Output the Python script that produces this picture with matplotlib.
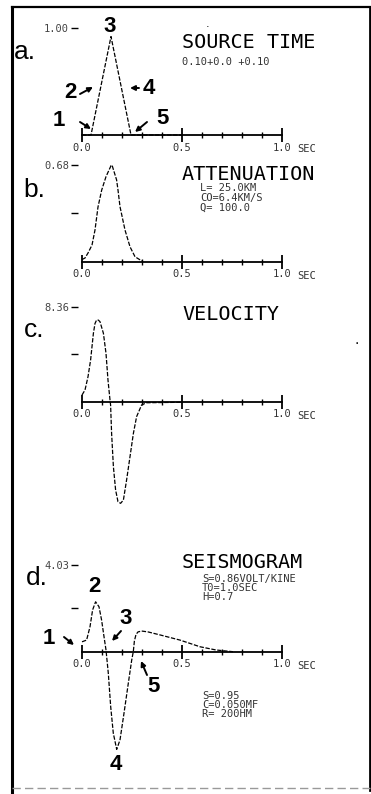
import numpy as np
import matplotlib
matplotlib.use("Agg")
import matplotlib.pyplot as plt
from matplotlib.lines import Line2D

W, H = 371, 794

# ---- data (time in sec, amplitude in panel units) ----
src_t = [0.0, 0.045, 0.145, 0.245, 0.5]
src_v = [0.0, 0.0, 0.92, 0.0, 0.0]

att_t = [0.0, 0.015, 0.03, 0.05, 0.065, 0.08, 0.0985, 0.12, 0.145, 0.15,
         0.173, 0.18, 0.19, 0.215, 0.24, 0.265, 0.305]
att_v = [0.015, 0.026, 0.061, 0.117, 0.223, 0.385, 0.504, 0.598, 0.675, 0.68,
         0.575, 0.504, 0.387, 0.223, 0.105, 0.035, 0.0]

vel_t = [0.0, 0.015, 0.03, 0.043, 0.057, 0.065, 0.073, 0.082, 0.09, 0.107,
         0.12, 0.13, 0.14, 0.143, 0.148, 0.157, 0.168, 0.18, 0.193, 0.207,
         0.223, 0.24, 0.257, 0.273, 0.298, 0.323, 0.5]
vel_v = [0.59, 1.03, 2.2, 3.68, 6.04, 6.9, 7.21, 7.2, 7.06, 6.04,
         4.27, 1.9, 0.15, -0.3, -2.79, -5.74, -7.79, -8.83, -8.97, -8.68,
         -6.91, -4.85, -2.79, -1.32, -0.29, -0.09, -0.05]

sei_t = [0.0, 0.023, 0.04, 0.053, 0.068, 0.085, 0.098, 0.11, 0.12, 0.1315,
         0.1435, 0.1565, 0.1735, 0.19, 0.21, 0.2315, 0.2485, 0.2565, 0.262,
         0.27, 0.28, 0.2985, 0.33, 0.39, 0.49, 0.59, 0.67, 0.755]
sei_v = [0.46, 0.54, 1.16, 1.94, 2.32, 2.09, 1.47, 0.70, 0.08, -1.0,
         -2.56, -3.79, -4.54, -4.1, -2.86, -1.47, -0.39, 0.0, 0.5,
         0.8, 0.92, 0.96, 0.92, 0.78, 0.54, 0.23, 0.08, 0.0]

peaks = [1.00, 0.68, 8.36, 4.03]
letters = ["a.", "b.", "c.", "d."]
titles = ["SOURCE TIME", "ATTENUATION", "VELOCITY", "SEISMOGRAM"]

plot_font = "DejaVu Sans Mono"
big_font = "Liberation Sans"


def fpos(x, y):
    # reference pixel (top-left origin) -> figure fraction
    return x / W, 1 - y / H


fig = plt.figure(figsize=(W / 100, H / 100), dpi=100)
fig.patch.set_facecolor("white")


def panel(top, bot, axis_y, scale, t, v, peak, mid=True):
    ax = fig.add_axes([0, 1 - bot / H, 1, (bot - top) / H])
    ax.set_xlim(-82 / 200, (W - 82) / 200)
    ax.set_ylim((axis_y - bot) / scale, (axis_y - top) / scale)
    ax.patch.set_visible(False)
    for s in ["top", "right"]:
        ax.spines[s].set_visible(False)
    ax.spines["left"].set_visible(False)
    ax.spines["left"].set_position(("data", -0.02))
    ax.spines["bottom"].set_position(("data", 0))
    ax.spines["bottom"].set_bounds(0, 1)
    ax.spines["bottom"].set_linewidth(1.3)
    ax.set_xticks([0, 0.5, 1.0])
    ax.set_xticklabels(["0.0", "0.5", "1.0"], fontfamily=plot_font,
                       fontsize=7.5, color="#333333")
    ax.set_xticks(np.arange(0.1, 1.0, 0.1), minor=True)
    ax.tick_params(axis="x", which="major", direction="inout", length=10,
                   width=1.3, pad=0.5)
    ax.tick_params(axis="x", which="minor", direction="inout", length=4,
                   width=1.0)
    ax.annotate("SEC", xy=(1.0, 0), xytext=(11, -10), textcoords="offset points",
                fontfamily=plot_font, fontsize=7.5, color="#333333",
                ha="left", va="center")
    if mid:
        ax.set_yticks([peak, peak / 2])
        ax.set_yticklabels([f"{peak:.2f}", ""])
    else:
        ax.set_yticks([peak])
        ax.set_yticklabels([f"{peak:.2f}"])
    for lab in ax.get_yticklabels():
        lab.set_fontfamily(plot_font)
        lab.set_fontsize(7.5)
        lab.set_color("#444444")
    ax.tick_params(axis="y", direction="out", length=5, width=1.0, pad=1.5)
    ax.plot(t, v, color="black", lw=0.9, ls=(0, (3.5, 1.3)))
    return ax


panel(10, 160, 135, 107, src_t, src_v, peaks[0], mid=False)
panel(160, 290, 261.7, 142.2, att_t, att_v, peaks[1])
panel(295, 530, 401.7, 11.33, vel_t, vel_v, peaks[2])
panel(530, 785, 651.7, 21.51, sei_t, sei_v, peaks[3])

# ---- panel letters and titles ----
letter_xy = [(25, 52), (34, 190), (34, 330), (37, 578)]
for s, (x, y) in zip(letters, letter_xy):
    fig.text(*fpos(x, y), s, fontfamily=big_font, fontsize=19, ha="center",
             va="center")

title_y = [43, 174, 315, 563]
for s, y in zip(titles, title_y):
    fig.text(*fpos(182, y), s, fontfamily=plot_font, fontsize=14.5,
             ha="left", va="center")

small = dict(fontfamily=plot_font, fontsize=7.5, color="#333333",
             ha="left", va="center")
fig.text(*fpos(182, 62), "0.10+0.0 +0.10", **small)
for s, y in zip(["L= 25.0KM", "CO=6.4KM/S", "Q= 100.0"], [188, 198, 208]):
    fig.text(*fpos(200, y), s, **small)
for s, y in zip(["S=0.86VOLT/KINE", "T0=1.0SEC", "H=0.7"], [579, 588, 597]):
    fig.text(*fpos(202, y), s, **small)
for s, y in zip(["S=0.95", "C=0.050MF", "R= 200HM"], [696, 705, 714]):
    fig.text(*fpos(202, y), s, **small)

# ---- numbered arrows ----
numbered = [
    ("3", (110, 26), None, None),
    ("2", (70, 93), (80, 94), (93, 87)),
    ("4", (149, 89), (139, 88), (130, 88)),
    ("1", (59, 120), (80, 122), (91, 129)),
    ("5", (163, 118), (147, 122), (135, 132)),
    ("2", (94, 586), None, None),
    ("1", (49, 638), (64, 637), (74, 645)),
    ("3", (126, 619), (121, 631), (112, 641)),
    ("4", (116, 765), None, None),
    ("5", (154, 686), (147, 675), (141, 661)),
]
for s, (x, y), tail, head in numbered:
    fig.text(*fpos(x, y), s, fontfamily=big_font, fontsize=16,
             fontweight="bold", ha="center", va="center")
    if tail is not None:
        fig.axes[0].annotate("", xy=fpos(*head), xytext=fpos(*tail),
                             xycoords="figure fraction",
                             textcoords="figure fraction",
                             arrowprops=dict(arrowstyle="-|>", lw=1.4,
                                             color="black",
                                             mutation_scale=7,
                                             shrinkA=0, shrinkB=0))

# ---- frame of the scanned plate ----
fig.add_artist(Line2D([12 / W, 12 / W], [0, 1 - 7 / H], color="black", lw=2.2))
fig.add_artist(Line2D([370 / W, 370 / W], [1 - 790 / H, 1 - 7 / H],
                      color="black", lw=2.0))
fig.add_artist(Line2D([12 / W, 370 / W], [1 - 7 / H, 1 - 7 / H],
                      color="black", lw=1.6))
fig.add_artist(Line2D([12 / W, 370 / W], [1 - 788 / H, 1 - 788 / H],
                      color="#999999", lw=1.0, ls=(0, (6, 3))))
fig.text(*fpos(208, 24), ".", fontsize=8, ha="center", va="center")
fig.text(*fpos(357, 340), ".", fontsize=10, ha="center", va="center")

fig.savefig("out.png", dpi=100)
